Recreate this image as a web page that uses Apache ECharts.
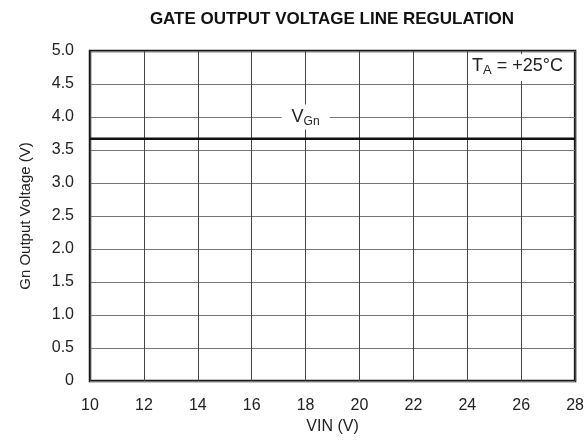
<!DOCTYPE html>
<html>
<head>
<meta charset="utf-8">
<script src="https://cdn.jsdelivr.net/npm/echarts@6/dist/echarts.min.js"></script>
<style>
  html, body { margin: 0; padding: 0; background: #fff; }
  #chart { width: 587px; height: 442px; }
</style>
</head>
<body>
<div id="chart"></div>
<script>
// VIN values (V) and the flat gate output voltage
const vinValues = [10, 12, 14, 16, 18, 20, 22, 24, 26, 28];
const vgnValues = [3.67, 3.67, 3.67, 3.67, 3.67, 3.67, 3.67, 3.67, 3.67, 3.67];
const seriesLabel = ["V", "Gn"];
const labelAt = [18, 4.0];

const font = "Liberation Sans, Arial, sans-serif";
const chart = echarts.init(document.getElementById("chart"));

chart.setOption({
  animation: false,
  title: {
    text: "GATE OUTPUT VOLTAGE LINE REGULATION",
    left: 327,
    top: 6,
    textAlign: "center",
    textStyle: { fontFamily: font, fontSize: 17, fontWeight: "bold", color: "#111" },
  },
  grid: {
    left: 90,
    right: 11,
    top: 51,
    bottom: 61,
    show: true,
    borderColor: "#1a1a1a",
    borderWidth: 2.5,
  },
  xAxis: {
    type: "value",
    min: 10,
    max: 28,
    interval: 2,
    name: "VIN (V)",
    nameLocation: "middle",
    nameGap: 37,
    nameTextStyle: { fontFamily: font, fontSize: 16, color: "#222" },
    axisLine: { show: false },
    axisTick: { show: false },
    axisLabel: { fontFamily: font, fontSize: 16, color: "#222", margin: 17 },
    splitLine: { lineStyle: { color: "#444", width: 1 } },
  },
  yAxis: {
    type: "value",
    min: 0,
    max: 5,
    interval: 0.5,
    name: "Gn Output Voltage (V)",
    nameLocation: "middle",
    nameGap: 57,
    nameTextStyle: { fontFamily: font, fontSize: 15, color: "#222" },
    axisLine: { show: false },
    axisTick: { show: false },
    axisLabel: {
      fontFamily: font,
      fontSize: 16,
      color: "#222",
      margin: 16,
      formatter: (v) => (v === 0 ? "0" : v.toFixed(1)),
    },
    splitLine: { lineStyle: { color: "#777", width: 1 } },
  },
  series: [
    {
      type: "line",
      data: vinValues.map((x, i) => [x, vgnValues[i]]),
      symbol: "none",
      lineStyle: { color: "#111", width: 2.5 },
      z: 3,
      markPoint: {
        symbol: "rect",
        symbolSize: 0,
        data: [{ coord: labelAt }],
        label: {
          show: true,
          position: "inside",
          backgroundColor: "#fff",
          padding: [2, 10, 2, 10],
          formatter: "{a|" + seriesLabel[0] + "}{b|" + seriesLabel[1] + "}",
          rich: {
            a: { fontFamily: font, fontSize: 18, color: "#222" },
            b: { fontFamily: font, fontSize: 12, color: "#222", padding: [9, 0, 0, 0] },
          },
        },
      },
    },
  ],
  graphic: [
    {
      type: "rect",
      left: 469,
      top: 54,
      shape: { width: 104, height: 27 },
      style: { fill: "#fff" },
      z: 10,
    },
    {
      type: "text",
      left: 472,
      top: 57,
      z: 11,
      style: {
        text: "{a|T}{b|A}{a| = +25°C}",
        rich: {
          a: { fontFamily: font, fontSize: 18, fill: "#222" },
          b: { fontFamily: font, fontSize: 13, fill: "#222", padding: [9, 0, 0, 0] },
        },
      },
    },
  ],
});
</script>
</body>
</html>
